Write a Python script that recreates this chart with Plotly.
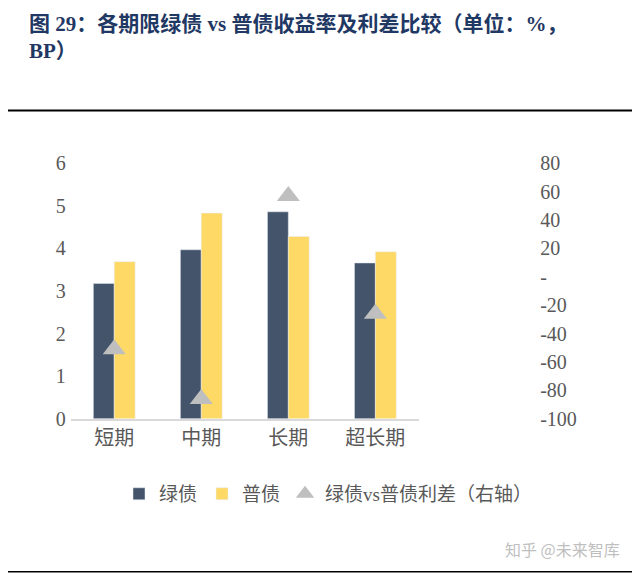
import plotly.graph_objects as go

categories = ["短期", "中期", "长期", "超长期"]
green = [3.18, 3.97, 4.86, 3.66]
ordinary = [3.69, 4.83, 4.28, 3.92]
spread = [-51, -86, 57, -26]

font = "Times New Roman, Liberation Serif, Noto Sans CJK SC, serif"

fig = go.Figure()
fig.add_trace(go.Bar(x=categories, y=green, name="绿债", marker_color="#44546a"))
fig.add_trace(go.Bar(x=categories, y=ordinary, name="普债", marker_color="#ffd966"))
fig.add_trace(go.Scatter(x=categories, y=spread, name="绿债vs普债利差（右轴）", mode="markers",
                         marker=dict(symbol="triangle-up", size=20, color="#bfbfbf"), yaxis="y2"))

fig.update_layout(
    width=640, height=573,
    paper_bgcolor="white", plot_bgcolor="white",
    margin=dict(l=0, r=0, t=0, b=0, autoexpand=False),
    font=dict(family=font, size=20, color="#595959"),
    bargap=0.52, bargroupgap=0,
    showlegend=True,
    legend=dict(orientation="h", x=0.5, xanchor="center", y=0.152, yanchor="middle",
                font=dict(size=19, color="#595959")),
    xaxis=dict(domain=[0.098, 0.642], showline=True, linecolor="#d9d9d9", linewidth=2,
               ticks="", anchor="y", tickfont=dict(size=20)),
    yaxis=dict(domain=[0.283, 0.729], range=[0, 6], dtick=1, showgrid=False, zeroline=False,
               ticklabelstandoff=4),
    yaxis2=dict(overlaying="y", side="right", range=[-100, 80], showgrid=False,
                zeroline=False, anchor="free", position=0.83,
                tickvals=list(range(-100, 81, 20)),
                ticktext=[str(v) if v != 0 else "-" for v in range(-100, 81, 20)]),
    annotations=[
        dict(text="<b>图 29：各期限绿债 vs 普债收益率及利差比较（单位：%，<br>BP）</b>",
             x=0.03, y=0.997, xref="paper", yref="paper", xanchor="left", yanchor="top",
             align="left", showarrow=False, font=dict(size=21, color="#1f3864")),
        dict(text="知乎 @未来智库", x=0.96, y=0.056, xref="paper", yref="paper",
             xanchor="right", yanchor="middle", showarrow=False,
             font=dict(size=16, color="#bfbfbf", family="Noto Sans CJK SC")),
    ],
    shapes=[
        dict(type="line", xref="paper", yref="paper", x0=0.0, x1=0.985, y0=0.821, y1=0.821,
             line=dict(color="black", width=2)),
        dict(type="line", xref="paper", yref="paper", x0=0.0, x1=0.985, y0=0.016, y1=0.016,
             line=dict(color="black", width=1.5)),
    ],
)

fig.write_html("out.html")
